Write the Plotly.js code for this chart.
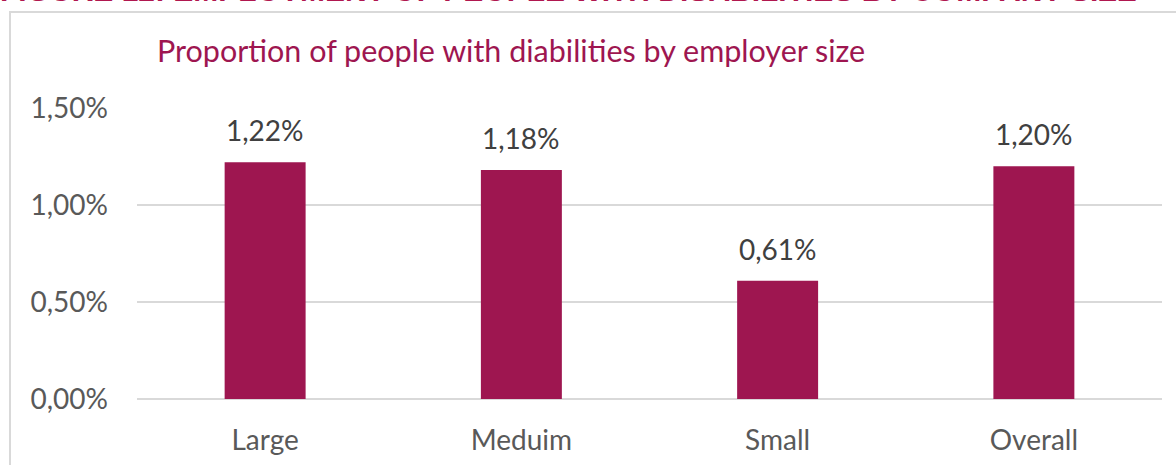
<!DOCTYPE html>
<html>
<head>
<meta charset="utf-8">
<script src="https://cdn.plot.ly/plotly-3.0.1.min.js"></script>
<style>html,body{margin:0;padding:0;background:#fff;overflow:hidden}#chart{width:1176px;height:465px}</style>
</head>
<body>
<div id="chart"></div>
<script>
const categories = ["Large", "Meduim", "Small", "Overall"];
const values = [1.22, 1.18, 0.61, 1.20];
const valueLabels = ["1,22%", "1,18%", "0,61%", "1,20%"];
const tickValues = [0, 0.5, 1.0, 1.5];
const tickLabels = ["0,00%", "0,50%", "1,00%", "1,50%"];
const figureHeading = "FIGURE 12: EMPLOYMENT OF PEOPLE WITH DISABILITIES BY COMPANY SIZE";
const chartTitle = "Proportion of people with diabilities by employer size";

const W = 1176, H = 465;
const m = {l: 137, r: 14, t: 108, b: 66};
const pw = W - m.l - m.r, ph = H - m.t - m.b;
const px = x => (x - m.l) / pw;
const py = y => (H - m.b - y) / ph;

const FONT = "Lato, 'Open Sans', sans-serif";
const MAROON = "#9E1650";

const annotations = categories.map((c, i) => ({
  x: c, y: values[i], xref: "x", yref: "y",
  text: valueLabels[i], showarrow: false, yanchor: "bottom", yshift: 13,
  font: {family: FONT, size: 28, color: "#404040"}
}));
annotations.push({
  xref: "paper", yref: "paper", x: px(155), y: py(50), xanchor: "left", yanchor: "middle",
  text: chartTitle, showarrow: false, font: {family: FONT, size: 30.5, color: MAROON}
});
annotations.push({
  xref: "paper", yref: "paper", x: px(-2), y: py(9), xanchor: "left", yanchor: "bottom",
  text: "<b>" + figureHeading + "</b>", showarrow: false,
  font: {family: "'Liberation Sans', Arial, sans-serif", size: 30, color: "#B0174F"}
});

Plotly.newPlot("chart", [{
  type: "bar", x: categories, y: values,
  marker: {color: MAROON, line: {width: 0}},
  hoverinfo: "none"
}], {
  width: W, height: H, margin: m,
  paper_bgcolor: "#fff", plot_bgcolor: "#fff",
  bargap: 0.684, showlegend: false,
  xaxis: {showgrid: false, showline: false, zeroline: false, ticks: "",
    tickfont: {family: FONT, size: 28, color: "#595959"}, ticklabelstandoff: 22},
  yaxis: {range: [0, 1.5], tickvals: tickValues, ticktext: tickLabels,
    showgrid: true, gridcolor: "#d9d9d9", gridwidth: 1.5, zeroline: true, zerolinecolor: "#d9d9d9", zerolinewidth: 1.5,
    showline: false, ticks: "", ticklabelstandoff: 28,
    tickfont: {family: FONT, size: 28, color: "#595959"}},
  annotations: annotations,
  shapes: [{type: "rect", xref: "paper", yref: "paper",
    x0: px(10), x1: px(1200), y0: py(12), y1: py(500),
    line: {color: "#d9d9d9", width: 2}, fillcolor: "rgba(0,0,0,0)", layer: "below"}]
}, {displayModeBar: false, staticPlot: true});
</script>
</body>
</html>
